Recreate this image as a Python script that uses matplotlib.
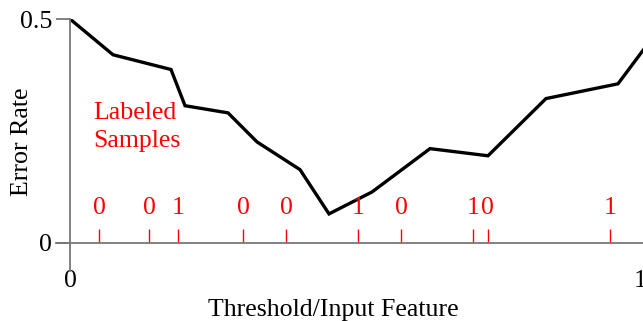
import matplotlib
matplotlib.use("Agg")
import matplotlib.pyplot as plt

plt.rcParams['font.family'] = ['Liberation Serif', 'DejaVu Serif']

# Error rate of the threshold classifier as the threshold sweeps the feature
threshold = [0.0, 0.0754, 0.1772, 0.2018, 0.2772, 0.3281, 0.4035, 0.4544,
             0.5298, 0.6316, 0.7333, 0.8351, 0.9614, 1.02]
error_rate = [0.5, 0.420, 0.387, 0.306, 0.290, 0.225, 0.163, 0.064,
              0.113, 0.210, 0.194, 0.322, 0.355, 0.455]

# Labeled samples: feature position and class label
sample_x = [0.051, 0.139, 0.189, 0.304, 0.379, 0.505, 0.581, 0.707, 0.733, 0.947]
sample_label = ['0', '0', '1', '0', '0', '1', '0', '1', '0', '1']

x_ticks = [0, 1]
x_tick_labels = ['0', '1']
y_ticks = [0, 0.5]
y_tick_labels = ['0', '0.5']

FS = 18.6
W, H = 643, 321
fig = plt.figure(figsize=(W / 100, H / 100), dpi=100)
ax = fig.add_axes([70 / W, (H - 242.5) / H, 573 / W, 223.5 / H])
ax.set_xlim(0, 573 / 570)
ax.set_ylim(0, 0.5)

axis_gray = '#777777'
for side in ('top', 'right'):
    ax.spines[side].set_visible(False)
ax.spines['left'].set_bounds(-0.063, 0.5)
ax.spines['bottom'].set_bounds(-0.0246, 573 / 570)
for side in ('left', 'bottom'):
    ax.spines[side].set_color(axis_gray)
    ax.spines[side].set_linewidth(1.3)

ax.set_yticks(y_ticks)
ax.set_yticklabels(y_tick_labels)
ax.tick_params(axis='y', length=10, width=1.3, color=axis_gray, pad=3,
               labelsize=FS)
ax.set_xticks(x_ticks)
ax.set_xticklabels(x_tick_labels)
ax.tick_params(axis='x', length=0, pad=20, labelsize=FS)

ax.plot(threshold, error_rate, color='black', lw=2.4, solid_joinstyle='miter')

ax.vlines(sample_x, 0, 0.03, colors='red', lw=1.0)
for x, lab in zip(sample_x, sample_label):
    ax.text(x, 0.064, lab, color='red', fontsize=FS, ha='center', va='baseline')

ax.text(0.0404, 0.277, 'Labeled', color='red', fontsize=FS,
        ha='left', va='baseline')
ax.text(0.0404, 0.214, 'Samples', color='red', fontsize=FS,
        ha='left', va='baseline')

ax.set_xlabel('Threshold/Input Feature', fontsize=FS, va='baseline')
ax.xaxis.set_label_coords(0.459, -0.327)
ax.set_ylabel('Error Rate', fontsize=FS, va='center')
ax.yaxis.set_label_coords(-0.0838, 0.45)

fig.savefig('out.png', dpi=100)
